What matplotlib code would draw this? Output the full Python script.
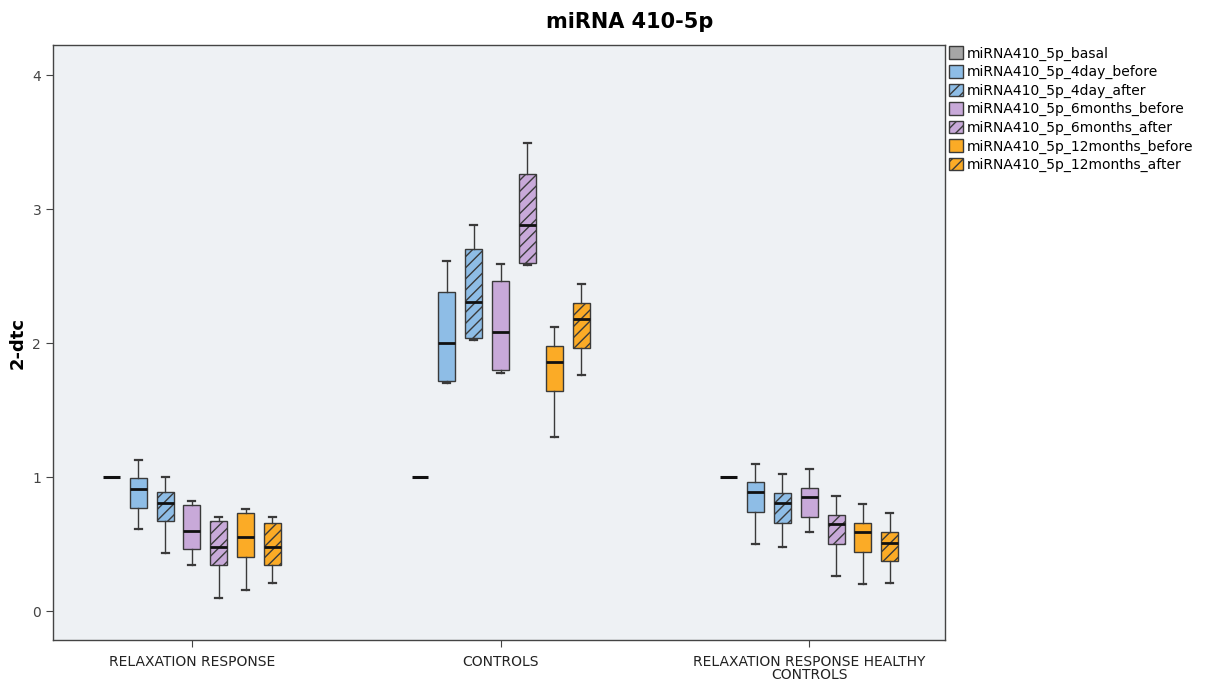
import matplotlib
matplotlib.use("Agg")
import matplotlib.pyplot as plt
from matplotlib.patches import Patch
import numpy as np

plt.rcParams["font.family"] = ["DejaVu Sans"]
plt.rcParams["hatch.linewidth"] = 1.0

GROUPS = ["RELAXATION RESPONSE", "CONTROLS", "RELAXATION RESPONSE HEALTHY\nCONTROLS"]
SERIES = [
    "miRNA410_5p_basal",
    "miRNA410_5p_4day_before",
    "miRNA410_5p_4day_after",
    "miRNA410_5p_6months_before",
    "miRNA410_5p_6months_after",
    "miRNA410_5p_12months_before",
    "miRNA410_5p_12months_after",
]
COLORS = ["#a6a6a6", "#8ebde6", "#8ebde6", "#c8a9d9", "#c8a9d9", "#fbab26", "#fbab26"]
HATCHED = [False, False, True, False, True, False, True]

# per group, per series: (whislo, q1, median, q3, whishi)
STATS_RR = [
    (1.00, 1.00, 1.00, 1.00, 1.00),
    (0.61, 0.77, 0.91, 0.99, 1.13),
    (0.43, 0.67, 0.81, 0.89, 1.00),
    (0.34, 0.46, 0.60, 0.79, 0.82),
    (0.10, 0.34, 0.48, 0.67, 0.70),
    (0.16, 0.40, 0.55, 0.73, 0.76),
    (0.21, 0.34, 0.48, 0.66, 0.70),
]
STATS_CONTROLS = [
    (1.00, 1.00, 1.00, 1.00, 1.00),
    (1.70, 1.72, 2.00, 2.38, 2.61),
    (2.02, 2.04, 2.31, 2.70, 2.88),
    (1.78, 1.80, 2.08, 2.46, 2.59),
    (2.58, 2.60, 2.88, 3.26, 3.49),
    (1.30, 1.64, 1.86, 1.98, 2.12),
    (1.76, 1.96, 2.18, 2.30, 2.44),
]
STATS_RR_HEALTHY = [
    (1.00, 1.00, 1.00, 1.00, 1.00),
    (0.50, 0.74, 0.89, 0.96, 1.10),
    (0.48, 0.66, 0.81, 0.88, 1.02),
    (0.59, 0.70, 0.85, 0.92, 1.06),
    (0.26, 0.50, 0.65, 0.72, 0.86),
    (0.20, 0.44, 0.59, 0.66, 0.80),
    (0.21, 0.37, 0.51, 0.59, 0.73),
]
ALL_STATS = [STATS_RR, STATS_CONTROLS, STATS_RR_HEALTHY]

Y_TICKS = [0, 1, 2, 3, 4]

BG = "#eef1f4"
EDGE = "#3a3a3a"

fig = plt.figure(figsize=(12.22, 6.83), dpi=100)
ax = fig.add_axes([0.0434, 0.063, 0.7299, 0.871])
ax.set_facecolor(BG)

offset = 0.087
width = 0.055
for g, group_stats in enumerate(ALL_STATS):
    for s, (lo, q1, med, q3, hi) in enumerate(group_stats):
        pos = g + (s - 3) * offset
        stats = [{"whislo": lo, "q1": q1, "med": med, "q3": q3, "whishi": hi, "fliers": []}]
        if s == 0:
            ax.plot([pos - width / 2, pos + width / 2], [med, med], color="#111111", lw=2.2,
                    solid_capstyle="butt", zorder=3)
            continue
        art = ax.bxp(stats, positions=[pos], widths=width, patch_artist=True,
                     showfliers=False, manage_ticks=False,
                     boxprops=dict(facecolor=COLORS[s], edgecolor=EDGE, linewidth=1.0),
                     medianprops=dict(color="#111111", linewidth=2.0),
                     whiskerprops=dict(color=EDGE, linewidth=1.0),
                     capprops=dict(color=EDGE, linewidth=1.6),
                     capwidths=width * 0.42)
        if HATCHED[s]:
            for b in art["boxes"]:
                b.set_hatch("///")

ax.set_xlim(-0.45, 2.44)
ax.set_ylim(-0.216, 4.224)
ax.set_xticks(range(len(GROUPS)))
ax.set_xticklabels(GROUPS, fontsize=10, color="#222222", linespacing=0.9)
ax.set_yticks(Y_TICKS)
ax.set_yticklabels([str(t) for t in Y_TICKS], fontsize=10, color="#444444")
ax.tick_params(axis="x", length=5, pad=6, color="#444444")
ax.tick_params(axis="y", length=5, color="#444444")
for sp in ax.spines.values():
    sp.set_color("#444444")
    sp.set_linewidth(1.0)

ax.set_ylabel("2-dtc", fontsize=13, fontweight="bold", labelpad=4)
fig.text(0.515, 0.968, "miRNA 410-5p", fontsize=15, fontweight="bold", ha="center", va="center")

handles = [Patch(facecolor=c, edgecolor=EDGE, hatch="///" if h else None, label=n)
           for n, c, h in zip(SERIES, COLORS, HATCHED)]
ax.legend(handles=handles, loc="upper left", bbox_to_anchor=(1.003, 1.0), frameon=False,
          fontsize=10, handlelength=1.0, handleheight=1.0, handletextpad=0.3,
          labelspacing=0.32, borderaxespad=0.0, borderpad=0.1)

fig.savefig("out.png", dpi=100)
